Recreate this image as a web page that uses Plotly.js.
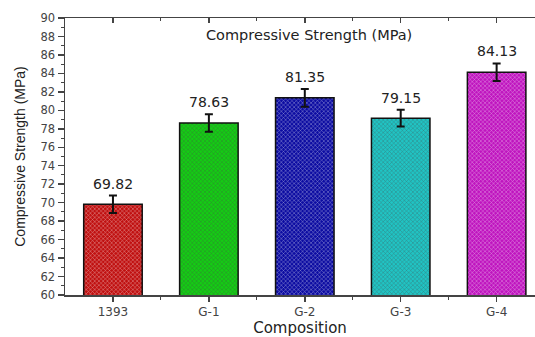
<!DOCTYPE html>
<html><head><meta charset="utf-8">
<script src="https://cdn.plot.ly/plotly-3.0.1.min.js"></script>
<style>html,body{margin:0;padding:0;background:#fff}#c{width:535px;height:337px}</style>
</head><body><div id="c"></div>
<script>
const categories = ["1393", "G-1", "G-2", "G-3", "G-4"];
const strength = [69.82, 78.63, 81.35, 79.15, 84.13];
const errors = [0.95, 0.95, 0.95, 0.9, 0.95];
const barColors = ["#c01010", "#14cc14", "#0c0ca2", "#20c4c4", "#bf14bf"];
const patternColors = ["#7a0505", "#088408", "#040460", "#0e7e7e", "#780878"];

const pos = categories.map((_, i) => i);
const font = "'DejaVu Sans', Verdana, sans-serif";

const bar = {
  type: "bar", x: pos, y: strength, width: 0.61,
  marker: {
    color: barColors,
    line: {color: "#111", width: 1.5},
    pattern: {shape: "x", fillmode: "overlay", fgcolor: patternColors, fgopacity: 0.55, size: 3, solidity: 0.3}
  },
  error_y: {type: "data", array: errors, visible: true, color: "#111", thickness: 2, width: 4},
  hoverinfo: "skip"
};
const ghost = {type: "scatter", x: [0], y: [60], xaxis: "x2", yaxis: "y", mode: "markers",
  marker: {opacity: 0}, showlegend: false, hoverinfo: "skip"};

const annotations = categories.map((c, i) => ({
  x: pos[i], y: strength[i] + errors[i], xref: "x", yref: "y",
  text: strength[i].toFixed(2), showarrow: false, yanchor: "bottom", yshift: 2,
  font: {family: font, size: 14, color: "#222"}
}));
annotations.push({
  x: 0.52, y: 0.94, xref: "paper", yref: "paper", showarrow: false,
  text: "Compressive Strength (MPa)", xanchor: "center", yanchor: "middle",
  font: {family: font, size: 14.5, color: "#222"}
});

const layout = {
  width: 535, height: 337,
  margin: {l: 65, r: 0, t: 18, b: 42},
  paper_bgcolor: "#fff", plot_bgcolor: "#fff",
  showlegend: false,
  xaxis: {
    range: [-0.5, 4.4], tickvals: pos, ticktext: categories,
    showline: true, linecolor: "#444", linewidth: 1.5,
    ticks: "outside", ticklen: 5, tickwidth: 1.5, tickcolor: "#444",
    minor: {tickvals: [0.5, 1.5, 2.5, 3.5], ticks: "outside", ticklen: 3, tickcolor: "#444", tickwidth: 1},
    showgrid: false, zeroline: false,
    tickfont: {family: font, size: 12, color: "#444"},
    title: {text: "Composition", font: {family: font, size: 15, color: "#222"}, standoff: 6}
  },
  xaxis2: {
    overlaying: "x", side: "top", range: [-0.5, 4.4], tickvals: pos,
    showticklabels: false, showline: true, linecolor: "#444", linewidth: 1.5,
    ticks: "inside", ticklen: 5, tickwidth: 1.5, tickcolor: "#444",
    minor: {tickvals: [0.5, 1.5, 2.5, 3.5], ticks: "inside", ticklen: 3, tickcolor: "#444", tickwidth: 1},
    showgrid: false, zeroline: false
  },
  yaxis: {
    range: [60, 90], dtick: 2, tick0: 60,
    showline: true, linecolor: "#444", linewidth: 1.5,
    ticks: "outside", ticklen: 6, tickwidth: 1.5, tickcolor: "#444",
    minor: {dtick: 1, ticks: "outside", ticklen: 3, tickcolor: "#444", tickwidth: 1},
    showgrid: false, zeroline: false,
    tickfont: {family: font, size: 11.5, color: "#444"},
    title: {text: "Compressive Strength (MPa)", font: {family: "Arial, 'Liberation Sans', sans-serif", size: 14, color: "#222"}, standoff: 11}
  },
  annotations: annotations
};

Plotly.newPlot("c", [bar, ghost], layout, {staticPlot: true, displayModeBar: false});
</script></body></html>
